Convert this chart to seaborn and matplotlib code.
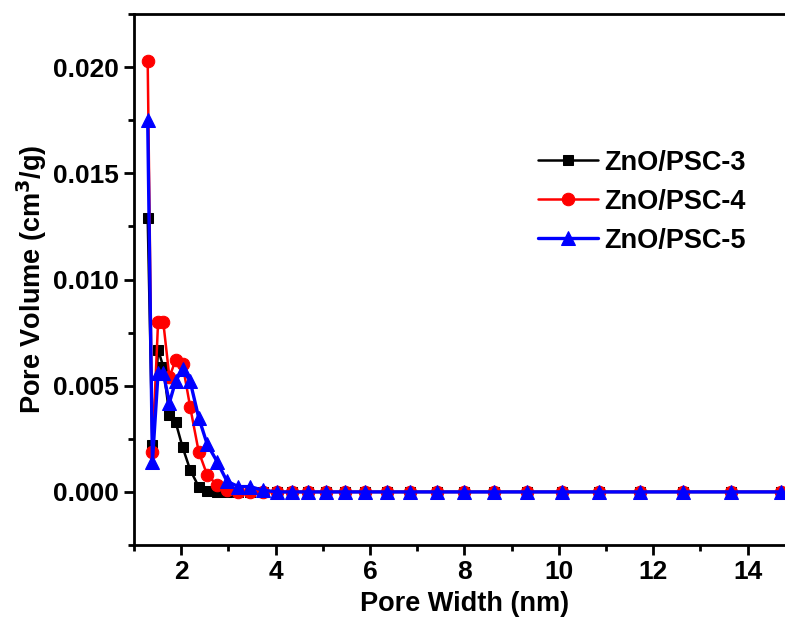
import numpy as np
import pandas as pd
import seaborn as sns
import matplotlib
matplotlib.use("Agg")
import matplotlib.pyplot as plt
from matplotlib.ticker import MultipleLocator

# pore widths (nm)
width = [1.29, 1.39, 1.51, 1.62, 1.75, 1.88, 2.03, 2.19, 2.37, 2.55, 2.76, 2.97,
         3.21, 3.46, 3.73, 4.03, 4.35, 4.69, 5.06, 5.46, 5.89, 6.36, 6.85, 7.41,
         8.00, 8.63, 9.32, 10.06, 10.85, 11.71, 12.63, 13.64, 14.70]

# pore volume (cm3/g)
psc3 = [0.0129, 0.0022, 0.0067, 0.0059, 0.0036, 0.0033, 0.0021, 0.00104, 0.00025, 0.00002,
        0, 0, 0, 0, 0, 0, 0, 0, 0, 0, 0, 0, 0, 0, 0, 0, 0, 0, 0, 0, 0, 0, 0]
psc4 = [0.0203, 0.0019, 0.0080, 0.0080, 0.0054, 0.0062, 0.0060, 0.0040, 0.0019, 0.0008,
        0.00033, 0.0001, 0, 0, 0, 0, 0, 0, 0, 0, 0, 0, 0, 0, 0, 0, 0, 0, 0, 0, 0, 0, 0]
psc5 = [0.0175, 0.0014, 0.0056, 0.0056, 0.0042, 0.0052, 0.0058, 0.0052, 0.0035, 0.00225,
        0.00143, 0.0005, 0.00025, 0.00025, 0.00008, 0, 0, 0, 0, 0, 0, 0, 0, 0, 0, 0, 0, 0,
        0, 0, 0, 0, 0]

labels = ["ZnO/PSC-3", "ZnO/PSC-4", "ZnO/PSC-5"]
colors = ["black", "red", "blue"]
markers = ["s", "o", "^"]
msizes = [7.5, 9, 10]
lwidths = [1.8, 1.8, 2.4]

sns.set_style("ticks")
plt.rcParams["font.family"] = ["Liberation Sans", "DejaVu Sans"]
plt.rcParams["font.weight"] = "bold"
plt.rcParams["axes.labelweight"] = "bold"
plt.rcParams["mathtext.default"] = "bf"
plt.rcParams["text.color"] = "black"
plt.rcParams["axes.labelcolor"] = "black"
plt.rcParams["xtick.color"] = "black"
plt.rcParams["ytick.color"] = "black"

fig = plt.figure(figsize=(7.85, 6.18), dpi=100)
ax = fig.add_axes([0.1707, 0.1181, 0.8418, 0.8592])

for ys, lab, c, m, ms, lw in zip([psc3, psc4, psc5], labels, colors, markers, msizes, lwidths):
    df = pd.DataFrame({"w": width, "v": ys})
    sns.lineplot(data=df, x="w", y="v", ax=ax, color=c, marker=m, markersize=ms,
                 markeredgecolor=c, linewidth=lw, label=lab)

ax.set_xlim(1.0, 15.0)
ax.set_ylim(-0.0025, 0.0225)
ax.xaxis.set_major_locator(MultipleLocator(2))
ax.xaxis.set_minor_locator(MultipleLocator(1))
ax.yaxis.set_major_locator(MultipleLocator(0.005))
ax.yaxis.set_minor_locator(MultipleLocator(0.0025))
ax.yaxis.set_major_formatter(matplotlib.ticker.FormatStrFormatter("%.3f"))

ax.tick_params(axis="both", which="major", direction="out", length=7, width=2,
               labelsize=19, colors="black")
ax.tick_params(axis="y", which="major", pad=4)
ax.tick_params(axis="both", which="minor", direction="out", length=4, width=2, color="black")
for lbl in ax.get_xticklabels() + ax.get_yticklabels():
    lbl.set_fontweight("bold")

for sp in ax.spines.values():
    sp.set_linewidth(2)
    sp.set_color("black")

ax.set_xlabel("Pore Width (nm)", fontsize=19.5, fontweight="bold", labelpad=5)
ax.set_ylabel("Pore Volume (cm$^3$/g)", fontsize=19.5, fontweight="bold", labelpad=3)

leg = ax.legend(loc="upper left", bbox_to_anchor=(0.575, 0.79), frameon=False,
                prop={"size": 19.5, "weight": "bold"}, handlelength=2.2,
                handletextpad=0.25, labelspacing=0.48)

fig.savefig("out.png", dpi=100)
